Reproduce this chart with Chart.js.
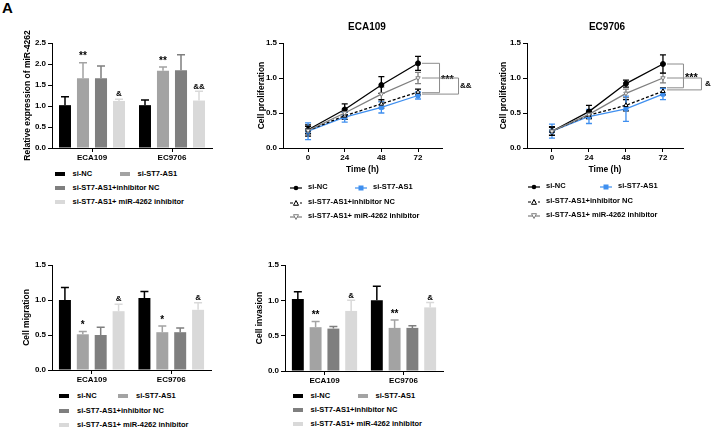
<!DOCTYPE html>
<html lang="en">
<head>
<meta charset="UTF-8">
<title>ST7-AS1 / miR-4262 panels</title>
<script src="https://cdn.jsdelivr.net/npm/chart.js"></script>
<style>
  body{margin:0;background:#fff;font-family:'Liberation Sans',Arial,sans-serif;color:#000;}
  #fig{position:relative;width:711px;height:430px;overflow:hidden;}
  #fig canvas{position:absolute;}
  .ttl{position:absolute;font-size:10px;font-weight:700;white-space:nowrap;transform:translate(-50%,-50%);line-height:1;}
  .lg{position:absolute;font-size:7.5px;font-weight:700;white-space:nowrap;line-height:1;transform:translateY(-50%);}
  .sw{position:absolute;height:4px;width:10px;transform:translateY(-50%);}
  .sym{position:absolute;transform:translateY(-50%);}
  .tag{position:absolute;left:2px;top:-1px;font-size:15px;font-weight:700;}
</style>
</head>
<body>
<div id="fig">
  <div class="tag">A</div>
  <canvas id="mir" width="230" height="168" style="left:0;top:0"></canvas>
  <canvas id="proEC" width="241" height="180" style="left:470px;top:0"></canvas>
  <canvas id="proECA" width="250" height="180" style="left:230px;top:0"></canvas>
  <canvas id="mig" width="230" height="165" style="left:0;top:225px"></canvas>
  <canvas id="inv" width="220" height="166" style="left:240px;top:225px"></canvas>
  <div class="ttl" style="left:367px;top:27px">ECA109</div>
  <div class="ttl" style="left:607px;top:27px">EC9706</div>
</div>
<script>
const cellLines = ['ECA109', 'EC9706'];
const groups = ['si-NC', 'si-ST7-AS1', 'si-ST7-AS1+inhibitor NC', 'si-ST7-AS1+ miR-4262 inhibitor'];
const hours = [0, 24, 48, 72];

// bar panels: one row per group, [ECA109, EC9706]
const mirMean = [[1.02, 1.02], [1.66, 1.84], [1.66, 1.85], [1.12, 1.13]];
const mirSd   = [[0.20, 0.12], [0.37, 0.09], [0.29, 0.37], [0.04, 0.22]];
const mirMarks = [['', ''], ['**', '**'], ['', ''], ['&', '&&']];

const migMean = [[1.00, 1.03], [0.51, 0.54], [0.50, 0.54], [0.84, 0.86]];
const migSd   = [[0.18, 0.09], [0.04, 0.09], [0.11, 0.06], [0.10, 0.10]];
const migMarks = [['', ''], ['*', '*'], ['', ''], ['&', '&']];

const invMean = [[1.02, 1.00], [0.62, 0.61], [0.60, 0.61], [0.85, 0.90]];
const invSd   = [[0.10, 0.20], [0.08, 0.11], [0.03, 0.03], [0.15, 0.07]];
const invMarks = [['', ''], ['**', '**'], ['', ''], ['&', '&']];

// proliferation: one row per group, values at 0/24/48/72 h
const proEcaMean = [[0.26, 0.55, 0.90, 1.21], [0.24, 0.44, 0.58, 0.75], [0.25, 0.46, 0.63, 0.80], [0.25, 0.50, 0.77, 1.00]];
const proEcaSd   = [[0.05, 0.08, 0.12, 0.10], [0.12, 0.07, 0.08, 0.05], [0.08, 0.05, 0.06, 0.04], [0.06, 0.06, 0.10, 0.08]];
const proEcMean  = [[0.24, 0.52, 0.92, 1.20], [0.24, 0.45, 0.56, 0.77], [0.24, 0.47, 0.61, 0.81], [0.24, 0.48, 0.78, 1.00]];
const proEcSd    = [[0.06, 0.09, 0.05, 0.13], [0.10, 0.10, 0.18, 0.08], [0.06, 0.05, 0.08, 0.05], [0.06, 0.06, 0.06, 0.07]];
const proEcaBrackets = [{top: 1.21, bottom: 0.79, text: '***'}, {top: 1.00, bottom: 0.77, text: '&&'}];
const proEcBrackets  = [{top: 1.20, bottom: 0.86, text: '***'}, {top: 1.00, bottom: 0.83, text: '&'}];

const barColors = ['#000000', '#a3a3a3', '#7f7f7f', '#d9d9d9'];
const lineColors = ['#000000', '#3f8fef', '#000000', '#7f7f7f'];
const pointFills = ['#000000', '#3f8fef', '#ffffff', '#ffffff'];
const pointStyles = ['circle', 'rect', 'triangle', 'triangle'];
const pointRot = [0, 0, 0, 180];
const lineDash = [[], [], [3, 2], []];

const FONT = "'Liberation Sans', Arial, sans-serif";
Chart.defaults.font.family = FONT;
Chart.defaults.color = '#000';

function yAxis(max, title, titlePad, width) {
  return {
    min: 0, max: max,
    afterFit: s => { s.width = width; },
    border: {color: '#000', width: 1},
    grid: {drawOnChartArea: false, drawTicks: true, tickLength: 4, color: '#000'},
    ticks: {stepSize: 0.5, padding: 2, font: {size: 8, weight: 'bold'}, callback: v => v.toFixed(1)},
    title: {display: true, text: title, font: {size: 8.5, weight: 'bold'}, padding: {top: titlePad, bottom: 0}}
  };
}

const barErrors = {
  id: 'barErrors',
  afterDatasetsDraw(chart) {
    const ctx = chart.ctx, y = chart.scales.y;
    chart.data.datasets.forEach((ds, i) => {
      chart.getDatasetMeta(i).data.forEach((bar, j) => {
        const top = y.getPixelForValue(ds.data[j] + ds.sd[j]);
        const half = 4;
        ctx.save();
        ctx.strokeStyle = ds.backgroundColor;
        ctx.lineWidth = 1.5;
        ctx.beginPath();
        ctx.moveTo(bar.x, bar.y); ctx.lineTo(bar.x, top);
        ctx.moveTo(bar.x - half, top); ctx.lineTo(bar.x + half, top);
        ctx.stroke();
        const m = ds.marks[j];
        if (m) {
          ctx.fillStyle = '#000';
          ctx.font = 'bold ' + (m.indexOf('*') >= 0 ? 10 : 8) + 'px ' + FONT;
          ctx.textAlign = 'center';
          ctx.textBaseline = 'bottom';
          ctx.fillText(m, bar.x, top - 1);
        }
        ctx.restore();
      });
    });
  }
};

function barChart(id, means, sds, marks, yTitle, g) {
  new Chart(document.getElementById(id), {
    type: 'bar',
    data: {
      labels: cellLines,
      datasets: groups.map((name, i) => ({
        label: name, data: means[i], sd: sds[i], marks: marks[i],
        backgroundColor: barColors[i], borderWidth: 0,
        categoryPercentage: 0.9, barPercentage: 0.67
      }))
    },
    options: {
      responsive: false, animation: false,
      layout: {padding: {left: 0, top: g.top, right: g.right, bottom: 0}},
      plugins: {legend: {display: false}, tooltip: {enabled: false}},
      scales: {
        x: {
          afterFit: s => { s.height = 20; },
          border: {color: '#000', width: 1},
          grid: {drawOnChartArea: false, drawTicks: true, tickLength: 4, color: '#000', offset: false},
          ticks: {padding: 1, font: {size: 8, weight: 'bold'}}
        },
        y: yAxis(g.max, yTitle, g.titlePad, g.width)
      }
    },
    plugins: [barErrors]
  });
}

const lineErrors = {
  id: 'lineErrors',
  beforeDatasetsDraw(chart) {
    const ctx = chart.ctx, y = chart.scales.y;
    chart.data.datasets.forEach((ds, i) => {
      chart.getDatasetMeta(i).data.forEach((pt, j) => {
        const v = ds.data[j].y, e = ds.sd[j];
        const a = y.getPixelForValue(v + e), b = y.getPixelForValue(v - e);
        ctx.save();
        ctx.strokeStyle = ds.borderColor;
        ctx.lineWidth = 1.3;
        ctx.beginPath();
        ctx.moveTo(pt.x, a); ctx.lineTo(pt.x, b);
        ctx.moveTo(pt.x - 3, a); ctx.lineTo(pt.x + 3, a);
        ctx.moveTo(pt.x - 3, b); ctx.lineTo(pt.x + 3, b);
        ctx.stroke();
        ctx.restore();
      });
    });
  }
};

function makeBrackets(items, reach, labelGap) {
  return {
    id: 'brackets',
    afterDraw(chart) {
      const ctx = chart.ctx, x = chart.scales.x, y = chart.scales.y;
      const x0 = x.getPixelForValue(hours[hours.length - 1]) + 4;
      items.forEach((b, k) => {
        const x1 = x0 + reach[k];
        const yt = y.getPixelForValue(b.top), yb = y.getPixelForValue(b.bottom);
        ctx.save();
        ctx.strokeStyle = '#8c8c8c';
        ctx.lineWidth = 1;
        ctx.beginPath();
        ctx.moveTo(x0, yt); ctx.lineTo(x1 + 0.5, yt); ctx.lineTo(x1 + 0.5, yb); ctx.lineTo(x0, yb);
        ctx.stroke();
        ctx.fillStyle = '#000';
        ctx.font = 'bold ' + (b.text.indexOf('*') >= 0 ? 11 : 8) + 'px ' + FONT;
        ctx.textBaseline = 'middle';
        ctx.fillText(b.text, x1 + labelGap[k], (yt + yb) / 2 + (b.text.indexOf('*') >= 0 ? 2 : 0));
        ctx.restore();
      });
    }
  };
}

function lineChart(id, means, sds, brk, g) {
  new Chart(document.getElementById(id), {
    type: 'line',
    data: {
      datasets: groups.map((name, i) => ({
        label: name,
        data: hours.map((h, k) => ({x: h, y: means[i][k]})),
        sd: sds[i],
        borderColor: lineColors[i], borderWidth: 1.3, borderDash: lineDash[i],
        pointStyle: pointStyles[i], pointRotation: pointRot[i],
        pointRadius: i === 1 ? 2.8 : 2.5, pointBorderWidth: 1,
        pointBackgroundColor: pointFills[i], pointBorderColor: lineColors[i],
        fill: false, tension: 0
      })).reverse()
    },
    options: {
      responsive: false, animation: false,
      layout: {padding: {left: 0, top: 43, right: g.right, bottom: 0}},
      plugins: {legend: {display: false}, tooltip: {enabled: false}},
      scales: {
        x: {
          type: 'linear', min: g.xMin, max: g.xMax,
          afterFit: s => { s.height = 32; },
          afterBuildTicks: s => { s.ticks = hours.map(v => ({value: v})); },
          border: {color: '#000', width: 1},
          grid: {drawOnChartArea: false, drawTicks: true, tickLength: 4, color: '#000'},
          ticks: {padding: 1, font: {size: 8, weight: 'bold'}},
          title: {display: true, text: 'Time (h)', font: {size: 8.5, weight: 'bold'}, padding: {top: 0, bottom: 5}}
        },
        y: yAxis(1.5, 'Cell proliferation', g.titlePad, g.width)
      }
    },
    plugins: [lineErrors, makeBrackets(brk, g.reach, g.labelGap)]
  });
}

barChart('mir', mirMean, mirSd, mirMarks, 'Relative expression of miR-4262',
  {top: 43, right: 18, width: 52, titlePad: 23, max: 2.5});
barChart('mig', migMean, migSd, migMarks, 'Cell migration',
  {top: 40, right: 19, width: 52, titlePad: 22, max: 1.5});
barChart('inv', invMean, invSd, invMarks, 'Cell invasion',
  {top: 40, right: 17, width: 45, titlePad: 15, max: 1.5});
lineChart('proECA', proEcaMean, proEcaSd, proEcaBrackets,
  {right: 38, width: 53, titlePad: 27, xMin: -16.4, xMax: 87.7, reach: [17, 36], labelGap: [2, 2]});
lineChart('proEC', proEcMean, proEcSd, proEcBrackets,
  {right: 28, width: 57, titlePad: 29, xMin: -16.2, xMax: 85.0, reach: [16, 34], labelGap: [2, 4]});

// legends
const fig = document.getElementById('fig');
function addText(x, y, text) {
  const d = document.createElement('div');
  d.className = 'lg'; d.style.left = x + 'px'; d.style.top = y + 'px';
  d.textContent = text; fig.appendChild(d);
}
function slots(c1, c2, rows) {
  return [[c1, rows[0]], [c2, rows[0]], [c1, rows[1]], [c1, rows[2]]];
}
function barLegend(c1, c2, textGap, rows) {
  slots(c1, c2, rows).forEach(([x, y], i) => {
    const s = document.createElement('div');
    s.className = 'sw'; s.style.left = x + 'px'; s.style.top = y + 'px';
    s.style.background = barColors[i]; fig.appendChild(s);
    addText(x + textGap, y, groups[i]);
  });
}
function markerSvg(i) {
  const c = lineColors[i];
  const dash = lineDash[i].length ? ' stroke-dasharray="3 2"' : '';
  let m;
  if (i === 0) m = `<circle cx="6" cy="4" r="2.3" fill="${c}"/>`;
  else if (i === 1) m = `<rect x="3.5" y="1.5" width="5" height="5" fill="${c}"/>`;
  else if (i === 2) m = `<polygon points="6,1.5 8.5,6.3 3.5,6.3" fill="#fff" stroke="${c}" stroke-width="1"/>`;
  else m = `<polygon points="6,6.5 8.5,1.7 3.5,1.7" fill="#fff" stroke="${c}" stroke-width="1"/>`;
  return `<svg width="12" height="8" viewBox="0 0 12 8"><line x1="0" y1="4" x2="12" y2="4" stroke="${c}" stroke-width="1.2"${dash}/>${m}</svg>`;
}
function lineLegend(c1, c2, textGap, rows) {
  slots(c1, c2, rows).forEach(([x, y], i) => {
    const s = document.createElement('div');
    s.className = 'sym'; s.style.left = x + 'px'; s.style.top = y + 'px';
    s.innerHTML = markerSvg(i); fig.appendChild(s);
    addText(x + textGap, y, groups[i]);
  });
}
barLegend(55, 120, 17.5, [174, 188, 202]);
barLegend(59, 118, 18, [396, 411, 425]);
barLegend(293, 358, 17.5, [396, 410, 424]);
lineLegend(290, 355, 18, [187, 201.5, 215.5]);
lineLegend(528, 600, 18, [186, 200.5, 214.5]);
</script>
</body>
</html>
